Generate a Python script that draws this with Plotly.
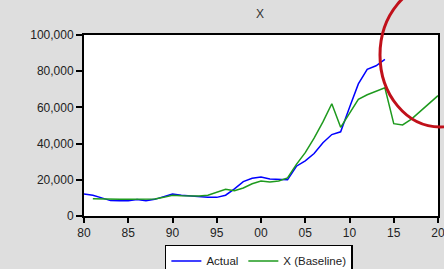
import plotly.graph_objects as go

years_actual = list(range(1980, 2015))
actual = [12200, 11500, 10000, 8500, 8400, 8400, 9100, 8400, 9200, 10500,
          12100, 11500, 11000, 10400, 10300, 10300, 11500, 15000, 19000, 20800,
          21600, 20500, 20300, 20000, 27500, 30500, 34500, 40500, 45000, 46500,
          60000, 73000, 81000, 83000, 86500]

years_base = list(range(1981, 2021))
baseline = [9500, 9300, 9300, 9300, 9300, 9300, 9300, 9400, 10300,
            11500, 11200, 11000, 11000, 11500, 13000, 14800, 14000, 15500, 17800,
            19300, 18800, 19300, 21000, 28500, 35000, 43000, 52000, 62000, 49000,
            57000, 64500, 67000, 69000, 70800, 51000, 50300, 53500, 57700, 62000,
            66500]

tick_vals = [1980, 1985, 1990, 1995, 2000, 2005, 2010, 2015, 2020]
tick_text = ["80", "85", "90", "95", "00", "05", "10", "15", "20"]

fig = go.Figure()
fig.add_trace(go.Scatter(x=years_actual, y=actual, mode="lines", name="Actual",
                         line=dict(color="#0000FF", width=1.5)))
fig.add_trace(go.Scatter(x=years_base, y=baseline, mode="lines", name="X (Baseline)",
                         line=dict(color="#1E9A1E", width=1.5)))

font = dict(family="Liberation Sans, Arial, sans-serif", size=12, color="#222222")

fig.update_layout(
    width=444, height=269,
    margin=dict(l=84, r=6, t=35, b=53, autoexpand=False),
    paper_bgcolor="#DEDEDE", plot_bgcolor="#FFFFFF",
    font=font,
    title=dict(text="X", x=(260) / 444, xanchor="center", y=1 - 14 / 269, yanchor="middle",
               font=dict(family="Liberation Sans, Arial, sans-serif", size=12, color="#333333")),
    showlegend=True,
    legend=dict(orientation="h", x=0.494, xanchor="center", y=-0.16, yanchor="top",
                bgcolor="#FFFFFF", bordercolor="#000000", borderwidth=1.5,
                font=dict(family="Liberation Sans, Arial, sans-serif", size=11.5, color="#222222"),
                itemwidth=30, tracegroupgap=0),
    xaxis=dict(range=[1980, 2020], tickvals=tick_vals, ticktext=tick_text,
               ticks="outside", ticklen=5, tickwidth=1.5, tickcolor="#000000",
               showline=True, linecolor="#000000", linewidth=2, mirror=True,
               showgrid=False, zeroline=False, automargin=False, ticklabeloverflow="allow"),
    yaxis=dict(range=[0, 100000], tickvals=[0, 20000, 40000, 60000, 80000, 100000],
               tickformat=",d", ticks="outside", ticklen=6, tickwidth=1.5, tickcolor="#000000",
               showline=True, linecolor="#000000", linewidth=2, mirror=True,
               showgrid=False, zeroline=False, automargin=False),
    shapes=[dict(type="circle", xref="paper", yref="paper",
                 x0=(380 - 84) / 354, x1=(500 - 84) / 354,
                 y0=(216 - 127) / 181, y1=(216 + 17) / 181,
                 line=dict(color="#C0101A", width=3), layer="above")],
)

fig.write_html("out.html", config={"displayModeBar": False},
               post_script="document.body.style.margin='0';document.body.style.overflow='hidden';")
